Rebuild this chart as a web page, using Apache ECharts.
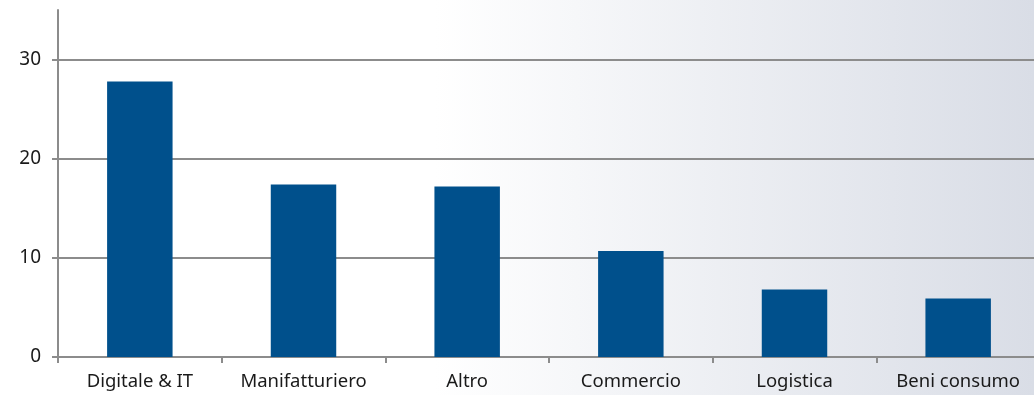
<!DOCTYPE html>
<html>
<head>
<meta charset="utf-8">
<script src="https://cdn.jsdelivr.net/npm/echarts@6/dist/echarts.min.js"></script>
<style>
    html, body { margin: 0; padding: 0; }
    #chart { width: 1034px; height: 395px; }
</style>
</head>
<body>
<div id="chart"></div>
<script>
const categories = ['Digitale & IT', 'Manifatturiero', 'Altro', 'Commercio', 'Logistica', 'Beni consumo']
const values = [27.8, 17.4, 17.2, 10.7, 6.8, 5.9]

const chart = echarts.init(document.getElementById('chart'))

chart.setOption({
    backgroundColor: new echarts.graphic.LinearGradient(0, 0, 1, 0, [
        { offset: 0, color: '#ffffff' },
        { offset: 0.42, color: '#ffffff' },
        { offset: 1, color: '#d9dde6' }
    ]),
    grid: {
        left: 58,
        right: -6,
        top: 10,
        bottom: 38,
        outerBoundsMode: 'none'
    },
    xAxis: {
        type: 'category',
        data: categories,
        axisLine: {
            lineStyle: { color: '#8c8c8c', width: 2 }
        },
        axisTick: {
            show: true,
            interval: 0,
            length: 6,
            lineStyle: { color: '#8c8c8c', width: 2 }
        },
        axisLabel: {
            interval: 0,
            hideOverlap: false,
            color: '#1a1a1a',
            fontSize: 18.5,
            fontFamily: 'Noto Sans, sans-serif',
            margin: 15
        }
    },
    yAxis: {
        type: 'value',
        min: 0,
        max: 35,
        interval: 10,
        axisLine: {
            show: true,
            lineStyle: { color: '#8c8c8c', width: 2 }
        },
        axisTick: {
            show: true,
            length: 6,
            lineStyle: { color: '#8c8c8c', width: 2 }
        },
        axisLabel: {
            showMaxLabel: false,
            color: '#1a1a1a',
            fontSize: 19,
            fontFamily: 'Noto Sans, sans-serif',
            margin: 17
        },
        splitLine: {
            lineStyle: {
                color: ['#8c8c8c', '#8c8c8c', '#8c8c8c', '#8c8c8c', 'rgba(0,0,0,0)'],
                width: 2
            }
        }
    },
    series: [{
        type: 'bar',
        data: values,
        barWidth: '40%',
        itemStyle: {
            color: '#00508c'
        }
    }]
})
</script>
</body>
</html>
